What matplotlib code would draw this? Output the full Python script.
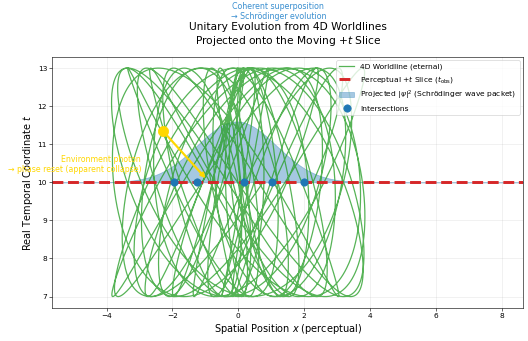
import numpy as np
import matplotlib
matplotlib.use("Agg")
import matplotlib.pyplot as plt

# worldline parameters (eternal 4D curve)
t_center = 10.0
t_amp = 3.0
n_turns = 34
x_amps = [1.95, 1.9]
x_freqs = [0.47, 0.79]
x_phases = [0.3, 1.1]

# perceptual slice
t_obs = 10.0
x_limits = [-5.65, 8.66]

# projected wave packet
packet_center = -0.05
packet_width = 1.2
packet_height = 1.6

# intersections on the slice
intersect_x = [-1.95, -1.26, 0.18, 1.02, 2.0]

# environment photon
photon_start = (-2.28, 11.34)
photon_end = (-0.96, 10.08)

tau = np.linspace(0, 2 * np.pi * n_turns, 14000)
wl_t = t_center + t_amp * np.sin(tau)
wl_x = sum(a * np.sin(f * tau + p) for a, f, p in zip(x_amps, x_freqs, x_phases))

xg = np.linspace(x_limits[0], x_limits[1], 600)
psi2 = packet_height * np.exp(-(xg - packet_center) ** 2 / (2 * packet_width ** 2))

fig = plt.figure(figsize=(10, 341 / 52.8), dpi=52.8)
ax = fig.add_axes([0.099, 0.0968, 0.892, 0.737])

ax.plot(wl_x, wl_t, color="tab:green", lw=1.7, alpha=0.8, label="4D Worldline (eternal)")
ax.axhline(t_obs, color="tab:red", ls="--", lw=4, label=r"Perceptual $+t$ Slice ($t_{\rm obs}$)")
ax.fill_between(xg, t_obs, t_obs + psi2, color="tab:blue", alpha=0.4,
                label=r"Projected $|\psi|^2$ (Schrödinger wave packet)")
ax.plot(intersect_x, [t_obs] * len(intersect_x), "o", color="tab:blue", ms=10, zorder=5,
        label="Intersections")

ax.plot(*photon_start, "o", color="gold", ms=14, zorder=6)
ax.annotate("", xy=photon_end, xytext=photon_start,
            arrowprops=dict(arrowstyle="-|>", color="gold", lw=3, mutation_scale=12), zorder=6)
ax.text(-2.95, 10.22, "Environment photon\n→ phase reset (apparent collapse)",
        color="gold", fontsize=10.5, ha="right", va="bottom")

fig.text(0.527, 0.995, "Coherent superposition\n→ Schrödinger evolution",
         color="#3a8fd0", fontsize=10.8, ha="center", va="top")

ax.set_title("Unitary Evolution from 4D Worldlines\nProjected onto the Moving $+t$ Slice",
             fontsize=14.5, pad=17)
ax.set_xlabel("Spatial Position $x$ (perceptual)", fontsize=13.3)
ax.set_ylabel("Real Temporal Coordinate $t$", fontsize=13.3)
ax.tick_params(labelsize=10)
ax.set_xlim(x_limits)
ax.grid(True, alpha=0.3)
ax.legend(loc="upper right", fontsize=10.2)

fig.savefig("out.png", dpi=52.8)
